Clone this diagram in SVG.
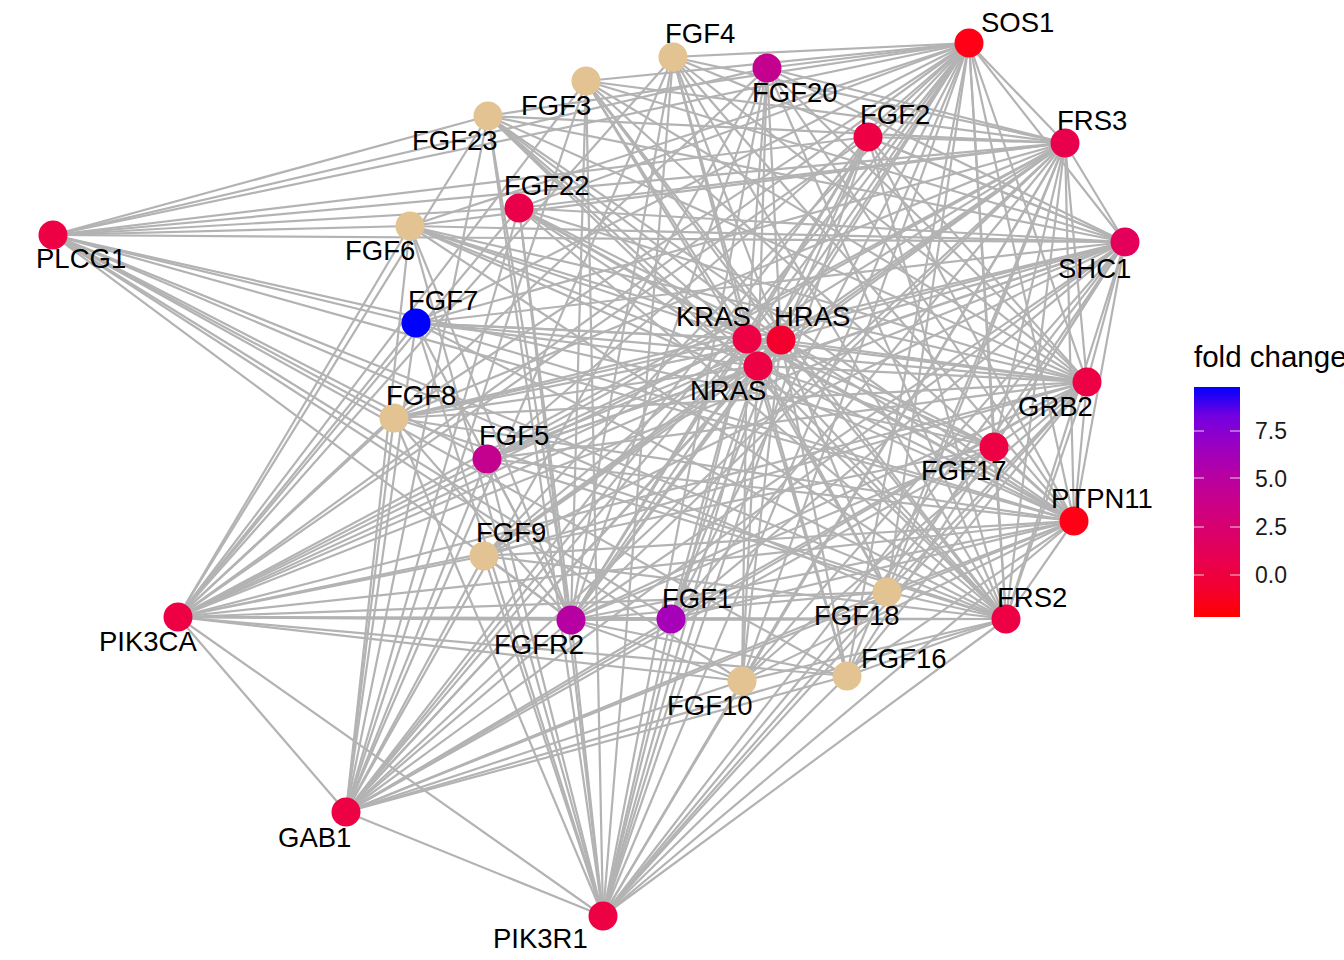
<svg xmlns="http://www.w3.org/2000/svg" width="1344" height="960" viewBox="0 0 1344 960">
<style>
.e path{stroke:#b3b3b3;stroke-width:2.2;fill:none}
.n circle{stroke:none}
text{font-family:"Liberation Sans",Arial,sans-serif;fill:#000}
.lb{font-size:27.5px}
.tk{font-size:23px;fill:#1a1a1a}
.tt{font-size:29.5px}
.tan{fill:#e2c391}
.cr{fill:#ee0044}
.rd{fill:#ff0016}
</style>
<defs>
<linearGradient id="fc" x1="0" y1="0" x2="0" y2="1">
<stop offset="0" stop-color="#0000ff"/>
<stop offset="0.125" stop-color="#7300e0"/>
<stop offset="0.25" stop-color="#9a00c3"/>
<stop offset="0.375" stop-color="#b500a5"/>
<stop offset="0.5" stop-color="#ca0089"/>
<stop offset="0.625" stop-color="#da006c"/>
<stop offset="0.75" stop-color="#e80050"/>
<stop offset="0.875" stop-color="#f40031"/>
<stop offset="1" stop-color="#ff0000"/>
</linearGradient>
</defs>
<rect width="1344" height="960" fill="#fff"/>
<g id="connectors" class="e">
<path d="M969 43L671 619"/><path d="M969 43L868 137"/><path d="M969 43L586 81"/><path d="M969 43L673 57"/><path d="M969 43L487 459"/><path d="M969 43L410 226"/><path d="M969 43L416 323"/><path d="M969 43L394 418"/><path d="M969 43L484 556"/><path d="M969 43L742 681"/><path d="M969 43L847 676"/><path d="M969 43L994 447"/><path d="M969 43L887 592"/><path d="M969 43L767 68"/><path d="M969 43L519 208"/><path d="M969 43L488 116"/>
<path d="M1065 143L671 619"/><path d="M1065 143L868 137"/><path d="M1065 143L586 81"/><path d="M1065 143L673 57"/><path d="M1065 143L487 459"/><path d="M1065 143L410 226"/><path d="M1065 143L416 323"/><path d="M1065 143L394 418"/><path d="M1065 143L484 556"/><path d="M1065 143L742 681"/><path d="M1065 143L847 676"/><path d="M1065 143L994 447"/><path d="M1065 143L887 592"/><path d="M1065 143L767 68"/><path d="M1065 143L519 208"/><path d="M1065 143L488 116"/>
<path d="M1125 242L671 619"/><path d="M1125 242L868 137"/><path d="M1125 242L586 81"/><path d="M1125 242L673 57"/><path d="M1125 242L487 459"/><path d="M1125 242L410 226"/><path d="M1125 242L416 323"/><path d="M1125 242L394 418"/><path d="M1125 242L484 556"/><path d="M1125 242L742 681"/><path d="M1125 242L847 676"/><path d="M1125 242L994 447"/><path d="M1125 242L887 592"/><path d="M1125 242L767 68"/><path d="M1125 242L519 208"/><path d="M1125 242L488 116"/>
<path d="M1087 382L671 619"/><path d="M1087 382L868 137"/><path d="M1087 382L586 81"/><path d="M1087 382L673 57"/><path d="M1087 382L487 459"/><path d="M1087 382L410 226"/><path d="M1087 382L416 323"/><path d="M1087 382L394 418"/><path d="M1087 382L484 556"/><path d="M1087 382L742 681"/><path d="M1087 382L847 676"/><path d="M1087 382L994 447"/><path d="M1087 382L887 592"/><path d="M1087 382L767 68"/><path d="M1087 382L519 208"/><path d="M1087 382L488 116"/>
<path d="M1074 521L671 619"/><path d="M1074 521L868 137"/><path d="M1074 521L586 81"/><path d="M1074 521L673 57"/><path d="M1074 521L487 459"/><path d="M1074 521L410 226"/><path d="M1074 521L416 323"/><path d="M1074 521L394 418"/><path d="M1074 521L484 556"/><path d="M1074 521L742 681"/><path d="M1074 521L847 676"/><path d="M1074 521L994 447"/><path d="M1074 521L887 592"/><path d="M1074 521L767 68"/><path d="M1074 521L519 208"/><path d="M1074 521L488 116"/>
<path d="M1006 619L671 619"/><path d="M1006 619L868 137"/><path d="M1006 619L586 81"/><path d="M1006 619L673 57"/><path d="M1006 619L487 459"/><path d="M1006 619L410 226"/><path d="M1006 619L416 323"/><path d="M1006 619L394 418"/><path d="M1006 619L484 556"/><path d="M1006 619L742 681"/><path d="M1006 619L847 676"/><path d="M1006 619L994 447"/><path d="M1006 619L887 592"/><path d="M1006 619L767 68"/><path d="M1006 619L519 208"/><path d="M1006 619L488 116"/>
<path d="M747 339L671 619"/><path d="M747 339L868 137"/><path d="M747 339L586 81"/><path d="M747 339L673 57"/><path d="M747 339L487 459"/><path d="M747 339L410 226"/><path d="M747 339L416 323"/><path d="M747 339L394 418"/><path d="M747 339L484 556"/><path d="M747 339L742 681"/><path d="M747 339L847 676"/><path d="M747 339L994 447"/><path d="M747 339L887 592"/><path d="M747 339L767 68"/><path d="M747 339L519 208"/><path d="M747 339L488 116"/>
<path d="M781 340L671 619"/><path d="M781 340L868 137"/><path d="M781 340L586 81"/><path d="M781 340L673 57"/><path d="M781 340L487 459"/><path d="M781 340L410 226"/><path d="M781 340L416 323"/><path d="M781 340L394 418"/><path d="M781 340L484 556"/><path d="M781 340L742 681"/><path d="M781 340L847 676"/><path d="M781 340L994 447"/><path d="M781 340L887 592"/><path d="M781 340L767 68"/><path d="M781 340L519 208"/><path d="M781 340L488 116"/>
<path d="M758 366L671 619"/><path d="M758 366L868 137"/><path d="M758 366L586 81"/><path d="M758 366L673 57"/><path d="M758 366L487 459"/><path d="M758 366L410 226"/><path d="M758 366L416 323"/><path d="M758 366L394 418"/><path d="M758 366L484 556"/><path d="M758 366L742 681"/><path d="M758 366L847 676"/><path d="M758 366L994 447"/><path d="M758 366L887 592"/><path d="M758 366L767 68"/><path d="M758 366L519 208"/><path d="M758 366L488 116"/>
<path d="M571 620L671 619"/><path d="M571 620L868 137"/><path d="M571 620L586 81"/><path d="M571 620L673 57"/><path d="M571 620L487 459"/><path d="M571 620L410 226"/><path d="M571 620L416 323"/><path d="M571 620L394 418"/><path d="M571 620L484 556"/><path d="M571 620L742 681"/><path d="M571 620L847 676"/><path d="M571 620L994 447"/><path d="M571 620L887 592"/><path d="M571 620L767 68"/><path d="M571 620L519 208"/><path d="M571 620L488 116"/>
<path d="M178 617L671 619"/><path d="M178 617L868 137"/><path d="M178 617L586 81"/><path d="M178 617L673 57"/><path d="M178 617L487 459"/><path d="M178 617L410 226"/><path d="M178 617L416 323"/><path d="M178 617L394 418"/><path d="M178 617L484 556"/><path d="M178 617L742 681"/><path d="M178 617L847 676"/><path d="M178 617L994 447"/><path d="M178 617L887 592"/><path d="M178 617L767 68"/><path d="M178 617L519 208"/><path d="M178 617L488 116"/>
<path d="M603 916L671 619"/><path d="M603 916L868 137"/><path d="M603 916L586 81"/><path d="M603 916L673 57"/><path d="M603 916L487 459"/><path d="M603 916L410 226"/><path d="M603 916L416 323"/><path d="M603 916L394 418"/><path d="M603 916L484 556"/><path d="M603 916L742 681"/><path d="M603 916L847 676"/><path d="M603 916L994 447"/><path d="M603 916L887 592"/><path d="M603 916L767 68"/><path d="M603 916L519 208"/><path d="M603 916L488 116"/>
<path d="M346 812L671 619"/><path d="M346 812L868 137"/><path d="M346 812L586 81"/><path d="M346 812L673 57"/><path d="M346 812L487 459"/><path d="M346 812L410 226"/><path d="M346 812L416 323"/><path d="M346 812L394 418"/><path d="M346 812L484 556"/><path d="M346 812L742 681"/><path d="M346 812L847 676"/><path d="M346 812L994 447"/><path d="M346 812L887 592"/><path d="M346 812L767 68"/><path d="M346 812L519 208"/><path d="M346 812L488 116"/>
<path d="M53 235L488 116"/><path d="M53 235L767 68"/><path d="M53 235L969 43"/><path d="M53 235L519 208"/><path d="M53 235L410 226"/><path d="M53 235L1065 143"/><path d="M53 235L868 137"/><path d="M53 235L1125 242"/><path d="M53 235L416 323"/><path d="M53 235L994 447"/><path d="M53 235L394 418"/><path d="M53 235L487 459"/><path d="M53 235L887 592"/><path d="M53 235L1006 619"/><path d="M53 235L671 619"/><path d="M53 235L742 681"/><path d="M53 235L847 676"/><path d="M53 235L571 620"/><path d="M53 235L1074 521"/>
<path d="M969 43L1065 143"/><path d="M969 43L1125 242"/><path d="M969 43L1087 382"/><path d="M969 43L1074 521"/><path d="M969 43L1006 619"/><path d="M1065 143L1125 242"/><path d="M1065 143L1087 382"/><path d="M1065 143L1074 521"/><path d="M1065 143L1006 619"/><path d="M1125 242L1087 382"/><path d="M1125 242L1074 521"/><path d="M1125 242L1006 619"/><path d="M1087 382L1074 521"/><path d="M1087 382L1006 619"/><path d="M1074 521L1006 619"/>
<path d="M969 43L747 339"/><path d="M969 43L781 340"/><path d="M969 43L758 366"/><path d="M1065 143L747 339"/><path d="M1065 143L781 340"/><path d="M1065 143L758 366"/><path d="M1125 242L747 339"/><path d="M1125 242L781 340"/><path d="M1125 242L758 366"/><path d="M1087 382L747 339"/><path d="M1087 382L781 340"/><path d="M1087 382L758 366"/><path d="M1074 521L747 339"/><path d="M1074 521L781 340"/><path d="M1074 521L758 366"/><path d="M1006 619L747 339"/><path d="M1006 619L781 340"/><path d="M1006 619L758 366"/>
<path d="M571 620L969 43"/><path d="M571 620L1065 143"/><path d="M571 620L1125 242"/><path d="M571 620L1087 382"/><path d="M571 620L1074 521"/><path d="M571 620L1006 619"/>
<path d="M178 617L969 43"/><path d="M178 617L1065 143"/><path d="M178 617L1125 242"/><path d="M178 617L1087 382"/><path d="M178 617L1074 521"/><path d="M178 617L1006 619"/>
<path d="M603 916L969 43"/><path d="M603 916L1065 143"/><path d="M603 916L1125 242"/><path d="M603 916L1087 382"/><path d="M603 916L1074 521"/><path d="M603 916L1006 619"/>
<path d="M346 812L969 43"/><path d="M346 812L1065 143"/><path d="M346 812L1125 242"/><path d="M346 812L1087 382"/><path d="M346 812L1074 521"/><path d="M346 812L1006 619"/>
<path d="M747 339L781 340"/><path d="M747 339L758 366"/><path d="M781 340L758 366"/><path d="M571 620L747 339"/><path d="M571 620L781 340"/><path d="M571 620L758 366"/>
<path d="M178 617L747 339"/><path d="M178 617L781 340"/><path d="M178 617L758 366"/><path d="M603 916L747 339"/><path d="M603 916L781 340"/><path d="M603 916L758 366"/><path d="M346 812L747 339"/><path d="M346 812L781 340"/><path d="M346 812L758 366"/>
<path d="M571 620L178 617"/><path d="M571 620L603 916"/><path d="M571 620L346 812"/><path d="M178 617L603 916"/><path d="M178 617L346 812"/><path d="M603 916L346 812"/>
</g>
<g id="node-SOS1" class="n"><circle class="rd" cx="969" cy="43" r="14.5"/><text class="lb" x="981" y="32">SOS1</text></g>
<g id="node-FGF4" class="n"><circle class="tan" cx="673" cy="57" r="14.5"/><text class="lb" x="665" y="43">FGF4</text></g>
<g id="node-FGF20" class="n"><circle fill="#c4008e" cx="767" cy="68" r="14.5"/><text class="lb" x="752" y="102">FGF20</text></g>
<g id="node-FGF3" class="n"><circle class="tan" cx="586" cy="81" r="14.5"/><text class="lb" x="521" y="115">FGF3</text></g>
<g id="node-FGF23" class="n"><circle class="tan" cx="488" cy="116" r="14.5"/><text class="lb" x="412" y="150">FGF23</text></g>
<g id="node-FGF2" class="n"><circle class="cr" cx="868" cy="137" r="14.5"/><text class="lb" x="860" y="124">FGF2</text></g>
<g id="node-FRS3" class="n"><circle fill="#e8004c" cx="1065" cy="143" r="14.5"/><text class="lb" x="1057" y="130">FRS3</text></g>
<g id="node-FGF22" class="n"><circle fill="#ea004a" cx="519" cy="208" r="14.5"/><text class="lb" x="504" y="195">FGF22</text></g>
<g id="node-PLCG1" class="n"><circle class="cr" cx="53" cy="235" r="14.5"/><text class="lb" x="36" y="268">PLCG1</text></g>
<g id="node-FGF6" class="n"><circle class="tan" cx="410" cy="226" r="14.5"/><text class="lb" x="345" y="260">FGF6</text></g>
<g id="node-SHC1" class="n"><circle fill="#e4005a" cx="1125" cy="242" r="14.5"/><text class="lb" x="1058" y="278">SHC1</text></g>
<g id="node-FGF7" class="n"><circle fill="#0000ff" cx="416" cy="323" r="14.5"/><text class="lb" x="408" y="310">FGF7</text></g>
<g id="node-KRAS" class="n"><circle class="cr" cx="747" cy="339" r="14.5"/><text class="lb" x="676" y="326">KRAS</text></g>
<g id="node-HRAS" class="n"><circle fill="#f4002e" cx="781" cy="340" r="14.5"/><text class="lb" x="774" y="326">HRAS</text></g>
<g id="node-NRAS" class="n"><circle class="cr" cx="758" cy="366" r="14.5"/><text class="lb" x="690" y="400">NRAS</text></g>
<g id="node-GRB2" class="n"><circle class="cr" cx="1087" cy="382" r="14.5"/><text class="lb" x="1018" y="416">GRB2</text></g>
<g id="node-FGF8" class="n"><circle class="tan" cx="394" cy="418" r="14.5"/><text class="lb" x="386" y="405">FGF8</text></g>
<g id="node-FGF17" class="n"><circle class="cr" cx="994" cy="447" r="14.5"/><text class="lb" x="921" y="480">FGF17</text></g>
<g id="node-FGF5" class="n"><circle fill="#c4008e" cx="487" cy="459" r="14.5"/><text class="lb" x="479" y="445">FGF5</text></g>
<g id="node-PTPN11" class="n"><circle class="rd" cx="1074" cy="521" r="14.5"/><text class="lb" x="1051" y="508">PTPN11</text></g>
<g id="node-FGF9" class="n"><circle class="tan" cx="484" cy="556" r="14.5"/><text class="lb" x="476" y="542">FGF9</text></g>
<g id="node-FGF18" class="n"><circle class="tan" cx="887" cy="592" r="14.5"/><text class="lb" x="814" y="625">FGF18</text></g>
<g id="node-PIK3CA" class="n"><circle class="cr" cx="178" cy="617" r="14.5"/><text class="lb" x="99" y="651">PIK3CA</text></g>
<g id="node-FGFR2" class="n"><circle fill="#b700a2" cx="571" cy="620" r="14.5"/><text class="lb" x="494" y="654">FGFR2</text></g>
<g id="node-FGF1" class="n"><circle fill="#a600b8" cx="671" cy="619" r="14.5"/><text class="lb" x="662" y="608">FGF1</text></g>
<g id="node-FRS2" class="n"><circle class="cr" cx="1006" cy="619" r="14.5"/><text class="lb" x="997" y="607">FRS2</text></g>
<g id="node-FGF16" class="n"><circle class="tan" cx="847" cy="676" r="14.5"/><text class="lb" x="861" y="668">FGF16</text></g>
<g id="node-FGF10" class="n"><circle class="tan" cx="742" cy="681" r="14.5"/><text class="lb" x="667" y="715">FGF10</text></g>
<g id="node-GAB1" class="n"><circle class="cr" cx="346" cy="812" r="14.5"/><text class="lb" x="278" y="847">GAB1</text></g>
<g id="node-PIK3R1" class="n"><circle class="cr" cx="603" cy="916" r="14.5"/><text class="lb" x="493" y="948">PIK3R1</text></g>
<g id="legend">
<text class="tt" x="1194" y="367">fold change</text>
<rect x="1194" y="387" width="46" height="230" fill="url(#fc)"/>
<g stroke="#ffffff" stroke-opacity="0.8" stroke-width="1">
<path d="M1194 431H1204M1230 431H1240M1194 478H1204M1230 478H1240M1194 527H1204M1230 527H1240M1194 575H1204M1230 575H1240"/>
</g>
<text class="tk" x="1255" y="439">7.5</text>
<text class="tk" x="1255" y="487">5.0</text>
<text class="tk" x="1255" y="535">2.5</text>
<text class="tk" x="1255" y="583">0.0</text>
</g>
</svg>
